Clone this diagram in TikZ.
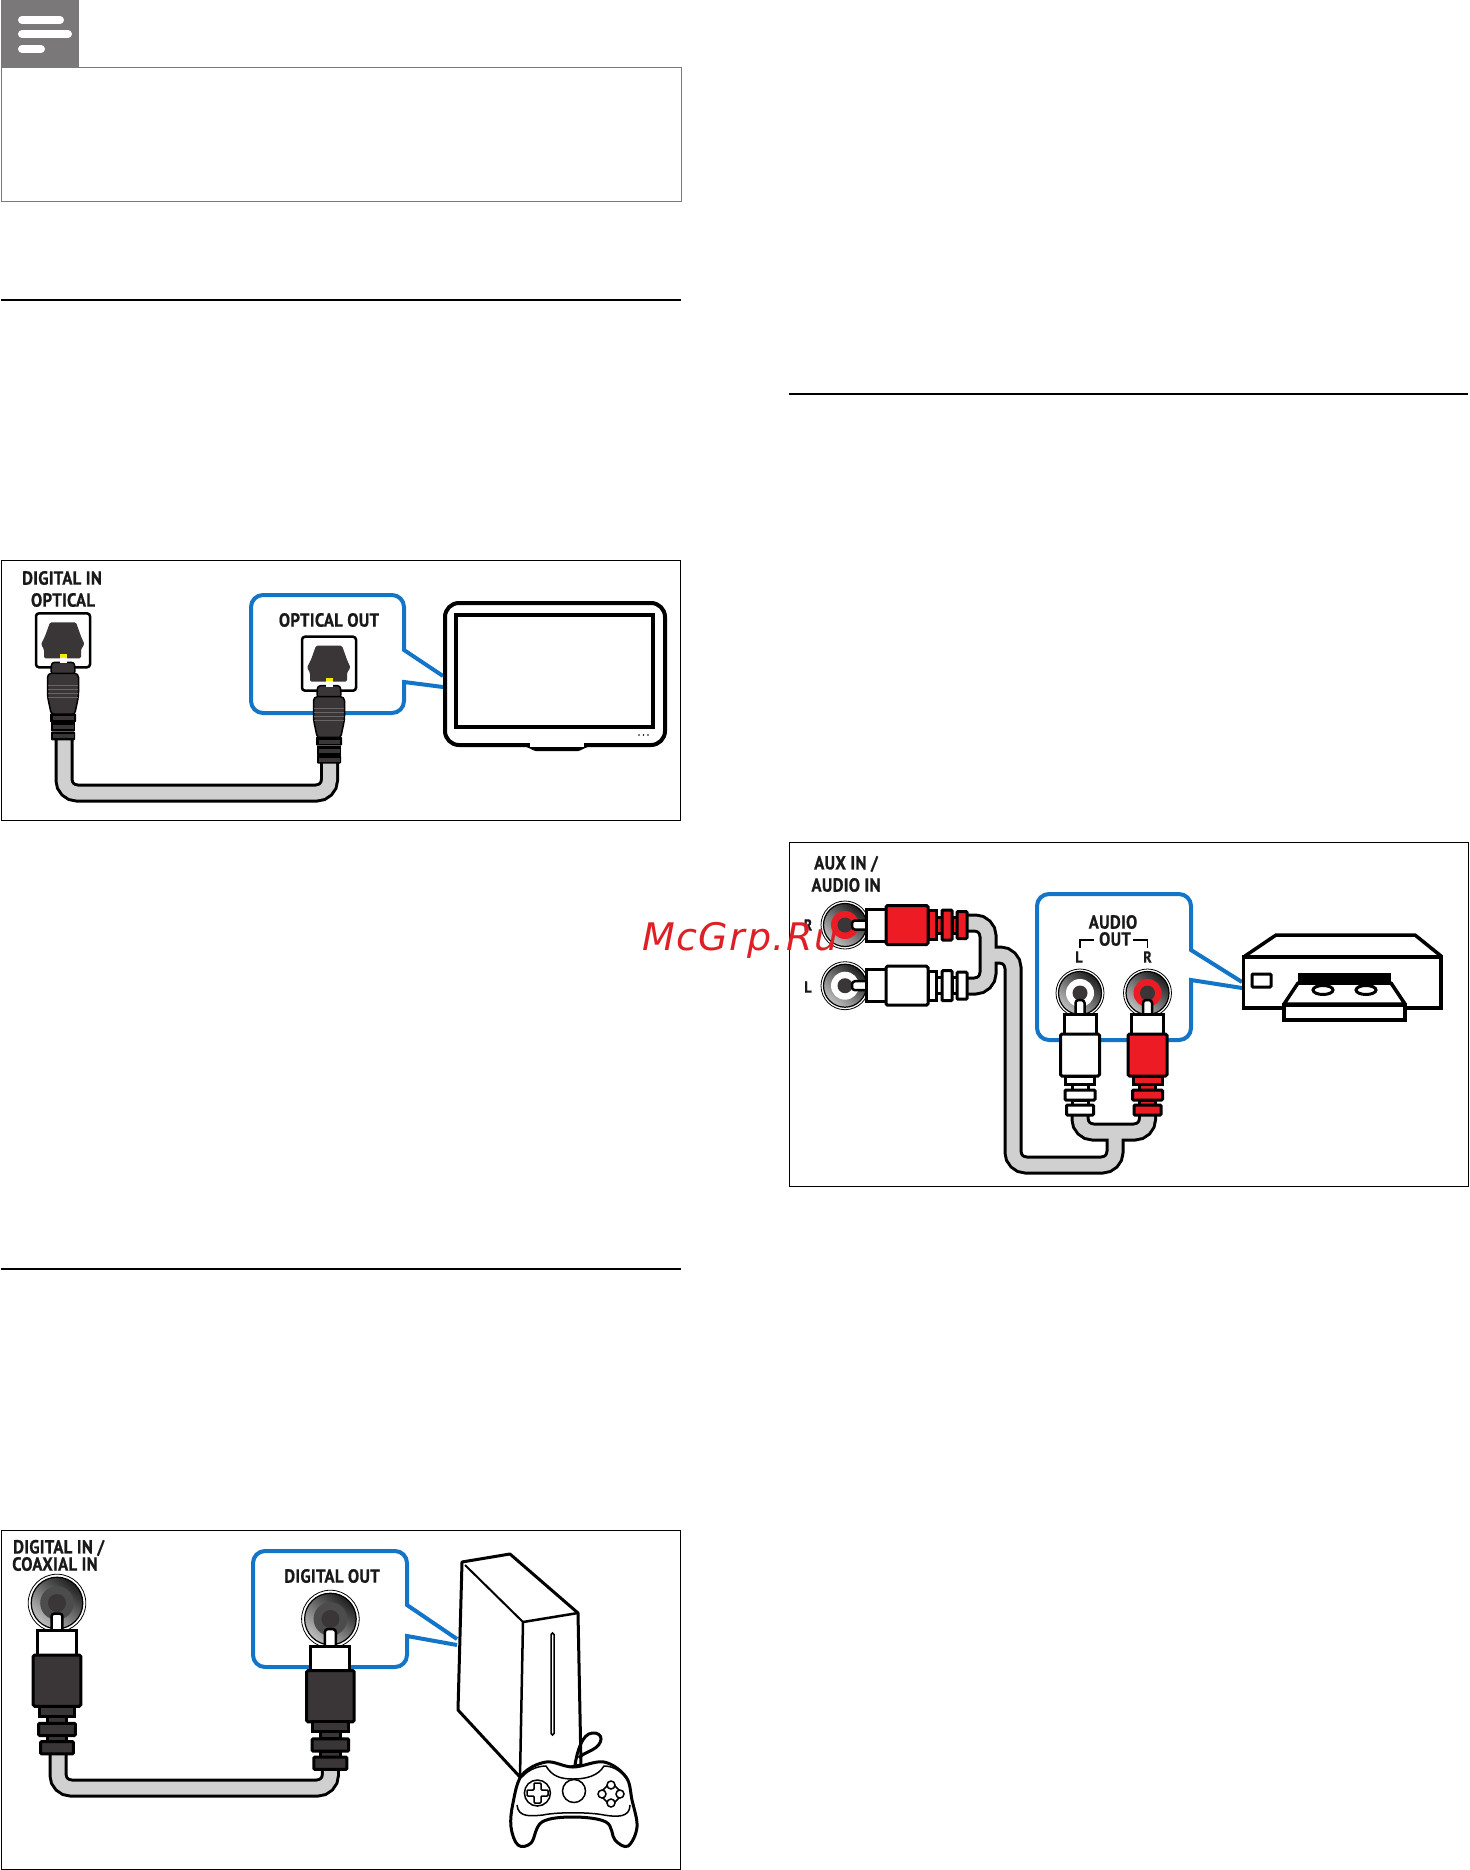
\documentclass[tikz,border=0pt]{standalone}
\usepackage{fontspec}
\setmainfont[FakeStretch=0.88,FakeBold=0.7,LetterSpace=1.5]{PT Sans}
\newfontfamily\markfont[LetterSpace=4]{DejaVu Sans}
\definecolor{callblue}{RGB}{18,117,200}
\definecolor{plugdark}{RGB}{58,53,54}
\definecolor{cablegray}{RGB}{208,208,208}
\definecolor{notegray}{RGB}{122,120,120}
\definecolor{plugred}{RGB}{237,28,36}
\definecolor{markred}{RGB}{222,32,38}
\tikzset{
  lbl/.style={font=\bfseries\fontsize{19}{19}\selectfont,inner sep=0pt,text=black!90},
  tinylbl/.style={lbl,font=\bfseries\fontsize{16}{16}\selectfont},
  outline/.style={draw=black,line width=3pt},
  callout/.style={draw=callblue,line width=4pt,fill=white},
  cableout/.style={draw=black,line width=19pt,rounded corners=13pt},
  cablein/.style={draw=cablegray,line width=13pt,rounded corners=13pt},
  pics/jack/.style={code={
    \draw[black,line width=.8pt,fill=white] (0,0) circle (24);
    \draw[black,line width=1.2pt,left color=black!88,right color=black!25,shading angle=-40] (0,0) circle (21.5);
    \fill[#1] (0,0) circle (14);
    \fill[plugdark] (0,0) circle (7.5);
  }},
  pics/rcaplug/.style={code={
    \draw[black,line width=2.5pt,fill=white,rounded corners=3pt] (-4.5,7) rectangle (4.5,24);
    \draw[outline,fill=white] (-16,21) rectangle (16,41);
    \draw[outline,fill=#1,rounded corners=1.5pt] (-19.5,41) rectangle (19.5,83);
    \draw[outline,fill=#1] (-14.5,83) rectangle (14.5,91);
    \draw[outline,fill=#1] (-8,91) rectangle (8,97);
    \draw[outline,fill=#1,rounded corners=1pt] (-15,97) rectangle (15,107);
    \draw[outline,fill=#1] (-8,107) rectangle (8,112);
    \draw[outline,fill=#1,rounded corners=1pt] (-13.5,112) rectangle (13.5,122);
  }},
  pics/optport/.style={code={
    \draw[black,line width=2.5pt,fill=white,rounded corners=3pt] (-27,-27) rectangle (27,27);
    \fill[plugdark,rounded corners=1.5pt] (-13,-18) -- (13,-18) -- (18,-4) -- (21.5,4) -- (18,9)
      -- (18,18) -- (-19,18) -- (-19,9) -- (-22,4) -- (-18,-4) -- cycle;
    \fill[yellow!90!orange] (-3.5,14) rectangle (3.5,17.5);
    \fill[white] (-3.5,17.5) rectangle (3.5,23);
    \draw[black,line width=1.5pt,fill=plugdark,rounded corners=3pt] (-11.5,22) -- (-3.5,22) -- (3.5,22) -- (11.5,22) -- (12,34) -- (-12,34) -- cycle;
    \fill[white] (-3.5,17.5) rectangle (3.5,23);
    \draw[black,line width=1.5pt,fill=plugdark,rounded corners=4pt] (-15.5,33) -- (15.5,33) -- (15.5,56) -- (11.5,75) -- (-11.5,75) -- (-15.5,56) -- cycle;
    \foreach \ringy in {45,49,53,57} {\draw[black!60,line width=.5pt] (-15,\ringy) -- (15,\ringy);}
    \fill[black,rounded corners=1pt] (-13,73) rectangle (13,82);
    \fill[black] (-12,82) rectangle (12,91);
    \fill[black,rounded corners=1pt] (-12,91) rectangle (12,100);
    \foreach \ringy in {76,85,94} {\fill[plugdark] (-10.5,\ringy) rectangle (10.5,\ringy+4);}
  }},
}
\begin{document}
\begin{tikzpicture}[x=1pt,y=-1pt]
\useasboundingbox (0,0) rectangle (1469,1870);
\fill[white] (0,0) rectangle (1469,1870);
% note box
\fill[notegray] (1,0) rectangle (79,68);
\foreach \bary/\barend in {20/60,34/68,49/41} {
  \draw[white,line width=8pt,line cap=round] (22,\bary) -- (\barend,\bary);
}
\draw[notegray,line width=1pt] (1,68) rectangle (681.5,202);
% section rules
\draw[black,line width=2pt] (1,300) -- (681,300);
\draw[black,line width=2pt] (1,1269) -- (681,1269);
\draw[black,line width=2pt] (789,393.5) -- (1468,393.5);
% frames
\draw[black,line width=1pt] (1,560) rectangle (680.5,820);
\draw[black,line width=1pt] (789,842.5) rectangle (1468,1186.5);
\draw[black,line width=1pt] (1,1530) rectangle (680.5,1869);

% optical connection
\node[lbl] (digitalin) at (62,578) {DIGITAL IN};
\node[lbl] (opticalin) at (63,600) {OPTICAL};
\draw[callout] (443,676) -- (404,650) [rounded corners=12pt] -- (404,595) -- (251,595)
  -- (251,713) -- (404,713) [sharp corners] -- (404,682) -- (443,687);
\node[lbl] (opticalout) at (329,620) {OPTICAL OUT};
\coordinate (optleft) at (64,735);
\coordinate (optright) at (329.5,758);
\coordinate (optlow) at (197,793);
\foreach \cablestyle in {cableout,cablein} {
  \draw[\cablestyle] (optleft) -- (optleft |- optlow) -- (optright |- optlow) -- (optright);
}
\pic at (63,640.3) {optport};
\pic at (329,663.7) {optport};
% tv
\draw[black,line width=4pt,fill=white,rounded corners=8pt] (522,744) .. controls (530,745) and (534,749) .. (544,749) -- (570,749) .. controls (580,749) and (584,745) .. (592,744);
\draw[black,line width=4pt,fill=white,rounded corners=14pt] (445,603) -- (665,603) -- (665,745) -- (445,745) -- cycle;
\draw[white,line width=4pt] (530,745) -- (584,745);
\draw[black,line width=4.5pt] (456,615) rectangle (653,727);
\foreach \dotx in {639,643.5,648} {\fill[black] (\dotx,735) circle (.8);}

% audio connection
\node[lbl] (auxin) at (846,864) {AUX IN /};
\node[lbl] (audioin) at (846,885) {AUDIO IN};
\node[tinylbl] (rin) at (808,925) {R};
\node[tinylbl] (lin) at (808,987) {L};
\draw[callout] (1242,982) -- (1191,950) [rounded corners=12pt] -- (1191,894) -- (1037,894)
  -- (1037,1040) -- (1191,1040) [sharp corners] -- (1191,980) -- (1242,988);
\node[lbl] (audioout) at (1113,922) {AUDIO};
\node[lbl] (outlbl) at (1115,939) {OUT};
\node[tinylbl] (lout) at (1079,957) {L};
\node[tinylbl] (rout) at (1147.5,957) {R};
\draw[black,line width=1.5pt] (1094,940) -- (1080,940) -- (1080,948);
\draw[black,line width=1.5pt] (1133,940) -- (1147.5,940) -- (1147.5,948);
\coordinate (rend) at (966,923);
\coordinate (lend) at (966,986);
\coordinate (yleft) at (988,955);
\coordinate (ylow) at (1080,1108);
\coordinate (yhigh) at (1147.5,1108);
\coordinate (ymid) at (1115,1132);
\foreach \cablestyle in {cableout,cablein} {
  \draw[\cablestyle] (rend) -- (yleft |- rend) -- (yleft |- lend) -- (lend);
  \draw[\cablestyle] (yleft) -- (1013,955) -- (1013,1165) -- (ymid |- 0,1165) -- (ymid);
  \draw[\cablestyle] (ylow) -- (ylow |- ymid) -- (yhigh |- ymid) -- (yhigh);
}
\pic at (845,925) {jack=plugred};
\pic at (845,985.7) {jack=white};
\pic at (1080,993) {jack=white};
\pic at (1147.5,993) {jack=plugred};
\pic[rotate=90] at (845,925) {rcaplug=plugred};
\pic[rotate=90] at (845,985.7) {rcaplug=white};
\pic at (1080,993) {rcaplug=white};
\pic at (1147.5,993) {rcaplug=plugred};
% recorder
\draw[black,line width=3.5pt,fill=white,line join=round] (1245,956) -- (1276,935) -- (1415,935) -- (1441,956);
\draw[black,line width=3.5pt,fill=white] (1243.5,957) rectangle (1441,1008);
\draw[black,line width=3pt,rounded corners=1pt] (1252,974) rectangle (1271,987);
\fill[black] (1298,973) rectangle (1391,982);
\draw[black,line width=3.5pt,fill=white,line join=round] (1298,983) -- (1391,983) -- (1405,1004) -- (1284,1004) -- cycle;
\draw[black,line width=3.5pt,fill=white] (1284,1005) rectangle (1405,1020);
\foreach \holex in {1323,1366} {\draw[black,line width=3pt] (\holex,990) ellipse (10 and 4.5);}

% coaxial connection
\node[lbl,anchor=west] (coaxone) at (13,1548) {DIGITAL IN /};
\node[lbl,anchor=west] (coaxtwo) at (12,1564) {COAXIAL IN};
\draw[callout] (457,1639) -- (407,1605) [rounded corners=12pt] -- (407,1551) -- (253,1551)
  -- (253,1667) -- (407,1667) [sharp corners] -- (407,1636) -- (457,1645);
\node[lbl] (digitalout) at (332,1576) {DIGITAL OUT};
\coordinate (coaxleft) at (58,1745);
\coordinate (coaxright) at (330.4,1760);
\coordinate (coaxlow) at (190,1788);
\foreach \cablestyle in {cableout,cablein} {
  \draw[\cablestyle] (coaxleft) -- (coaxleft |- coaxlow) -- (coaxright |- coaxlow) -- (coaxright);
}
\pic[scale=1.2] at (57,1603) {jack=black!70};
\pic[scale=1.2] at (330.4,1619) {jack=black!70};
\pic[scale=1.22] at (57,1605) {rcaplug=plugdark};
\pic[scale=1.22] at (330.4,1620.5) {rcaplug=plugdark};
% console
\draw[black,line width=3pt,fill=white,line join=round] (462,1562) -- (510,1554) -- (578,1613) -- (581,1765) -- (520,1777) -- (458,1710) -- cycle;
\draw[black,line width=2pt] (465,1565) -- (523,1622);
\draw[black,line width=2.5pt] (523,1622) -- (578,1613);
\draw[black,line width=2.5pt] (523,1622) -- (520,1777);
\draw[black,line width=1.5pt,rounded corners=1.5pt] (551,1633) rectangle (554,1735);
% game pad
\draw[black,line width=3pt] (575,1765) .. controls (577,1752) and (582,1734) .. (592,1733)
  .. controls (604,1732) and (604,1744) .. (592,1750) .. controls (586,1753) and (581,1755) .. (579,1758);
\draw[black,line width=3pt,fill=white] plot[smooth cycle,tension=.6] coordinates {(573,1767) (546,1762) (522,1775) (513,1803) (511,1827) (518,1845) (531,1843) (542,1822) (573,1817) (606,1822) (615,1840) (628,1846) (637,1827) (632,1800) (626,1777) (604,1762)};
\draw[black,line width=1.5pt] (522,1777) .. controls (530,1768) and (540,1766) .. (546,1766)
  .. controls (552,1776) and (560,1779) .. (573,1779) .. controls (586,1779) and (598,1776) .. (604,1766)
  .. controls (612,1766) and (620,1770) .. (626,1778);
\draw[black,line width=1.5pt] (517,1805) .. controls (518,1818) and (532,1816) .. (543,1815) .. controls (556,1812) and (590,1812) .. (604,1815) .. controls (616,1817) and (630,1818) .. (630,1805);
\draw[black,line width=1.5pt] (574,1791) circle (11.5);
\draw[black,line width=1.5pt] (537.4,1793) circle (13);
\draw[black,line width=1.5pt,fill=white,rounded corners=1pt] (534,1783) -- (541,1783) -- (541,1790) -- (548,1790) -- (548,1796) -- (541,1796) -- (541,1803) -- (534,1803) -- (534,1796) -- (527,1796) -- (527,1790) -- (534,1790) -- cycle;
\draw[black,line width=1.5pt] (611,1782) -- (623,1794) -- (611,1806) -- (599,1794) -- cycle;
\foreach \padx/\pady in {611/1785,611/1803,602/1794,620/1794} {
  \draw[black,line width=1.5pt,fill=white] (\padx,\pady) circle (4);
}
% watermark
\node[inner sep=0pt,anchor=base west,text=markred] (grpmark) at (642,950) {\markfont\itshape\fontsize{38}{38}\selectfont McGrp.Ru};
\end{tikzpicture}
\end{document}
